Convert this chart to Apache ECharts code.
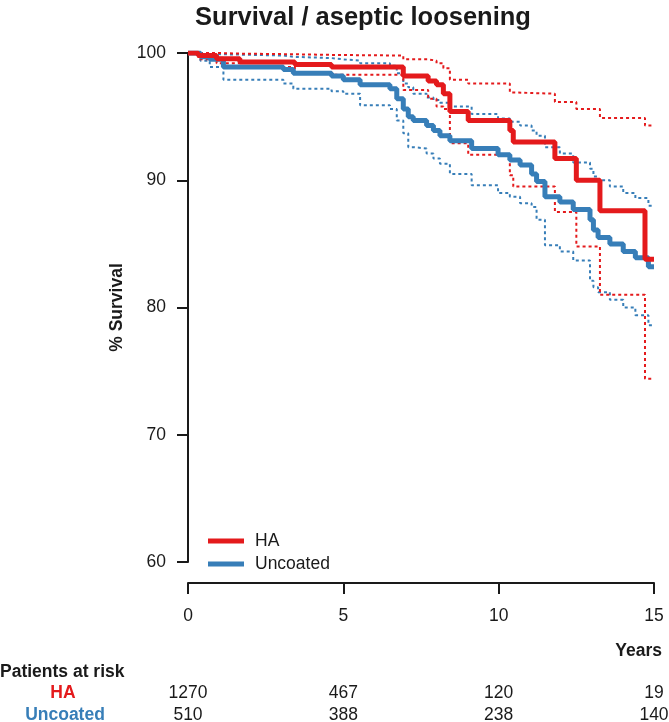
<!DOCTYPE html>
<html>
<head>
<meta charset="utf-8">
<title>Survival / aseptic loosening</title>
<script src="https://cdn.jsdelivr.net/npm/echarts@6/dist/echarts.min.js"></script>
<style>
  html, body { margin: 0; padding: 0; background: #fff; }
  #main { width: 669px; height: 722px; }
</style>
</head>
<body>
<div id="main"></div>
<script>
// ---- data ----
var endYear = 15;

// HA: step times (years) and survival (%)
var haTimes  = [0, 0.33, 0.92, 1.67, 3.44, 4.62, 6.93, 7.73, 8.0, 8.22, 8.43, 9.02, 10.36, 10.47, 11.81, 12.5, 13.26, 14.71];
var haSurv   = [100, 99.8, 99.55, 99.3, 99.1, 98.9, 98.2, 97.8, 97.5, 96.8, 95.4, 94.7, 93.9, 93.0, 91.7, 90.0, 87.6, 83.8];
var haUpper  = [100, 100, 99.95, 99.9, 99.85, 99.8, 99.5, 99.4, 99.2, 98.8, 97.9, 97.6, 96.9, 96.8, 96.15, 95.6, 94.9, 94.3];
var haLower  = [100, 99.5, 99.2, 98.9, 98.5, 98.3, 97.1, 96.4, 95.8, 95.6, 92.9, 92.0, 90.4, 89.5, 87.5, 84.8, 81.0, 74.4];

// Uncoated
var unTimes  = [0, 0.4, 0.7, 1.14, 3.07, 3.39, 4.62, 5.0, 5.54, 6.5, 6.72, 6.93, 7.09, 7.25, 7.68, 7.9, 8.11, 8.43, 9.13,
                9.98, 10.36, 10.69, 11.06, 11.22, 11.49, 11.97, 12.4, 12.94, 13.05, 13.2, 13.58, 14.01, 14.4, 14.82];
var unSurv   = [100, 99.7, 99.5, 98.9, 98.7, 98.4, 98.2, 97.9, 97.5, 97.2, 96.4, 95.6, 95.0, 94.7, 94.3, 93.9, 93.5, 93.1, 92.5,
                92.0, 91.6, 91.2, 90.5, 89.9, 88.7, 88.3, 87.7, 86.9, 86.1, 85.5, 85.0, 84.4, 83.9, 83.2];
var unUpper  = [100, 99.95, 99.9, 99.8, 99.7, 99.6, 99.5, 99.4, 99.2, 99.0, 98.4, 97.6, 97.3, 96.8, 96.5, 96.3, 96.1, 95.8, 95.2,
                94.85, 94.6, 94.3, 93.9, 93.5, 92.6, 92.1, 91.4, 90.9, 90.3, 90.0, 89.5, 89.0, 88.6, 88.0];
var unLower  = [100, 99.4, 98.9, 97.9, 97.6, 97.2, 97.0, 96.8, 95.9, 95.6, 94.7, 93.7, 92.6, 92.5, 92.1, 91.7, 91.3, 90.5, 89.6,
                89.0, 88.7, 88.2, 87.9, 86.9, 84.9, 84.4, 83.7, 82.1, 81.6, 81.2, 80.6, 80.0, 79.4, 78.6];

// patients at risk table
var riskYears    = [0, 5, 10, 15];
var riskHA       = [1270, 467, 120, 19];
var riskUncoated = [510, 388, 238, 140];

// ---- styling ----
var RED = '#E41A1C', BLUE = '#377EB8', INK = '#1a1a1a';
var FONT = '"Liberation Sans", Arial, sans-serif';

//时间/生存率配对, 最后一段延长到随访结束
function steps(times, vals) {
    var out = [];
    for (var i = 0; i < times.length; i++) {
        out.push([times[i], vals[i]]);
    }
    out.push([endYear, vals[vals.length - 1]]);
    return out;
}

function kmSeries(name, times, vals, color, dotted) {
    return {
        name: name,
        type: 'line',
        step: 'end',
        data: steps(times, vals),
        symbol: 'none',
        silent: true,
        z: dotted ? 2 : 3,
        lineStyle: dotted
            ? {color: color, width: 2, type: [3, 3]}
            : {color: color, width: 5, cap: 'butt'},
        itemStyle: {color: color}
    };
}

var chart = echarts.init(document.getElementById('main'), null, {renderer: 'canvas'});

chart.setOption({
    animation: false,
    backgroundColor: '#fff',
    textStyle: {fontFamily: FONT},
    title: {
        text: 'Survival / aseptic loosening',
        left: 358,
        textAlign: 'center',
        top: 0,
        textStyle: {fontFamily: FONT, fontSize: 25.5, fontWeight: 'bold', color: INK}
    },
    legend: {
        orient: 'vertical',
        left: 203,
        top: 527,
        itemWidth: 36,
        itemHeight: 5,
        itemGap: 5,
        icon: 'rect',
        data: ['HA', 'Uncoated'],
        textStyle: {fontFamily: FONT, fontSize: 17.5, color: INK, padding: [0, 0, 0, 6]}
    },
    grid: {left: 188, right: 15, top: 53, bottom: 160, outerBoundsMode: 'none'},
    xAxis: {
        type: 'value', min: 0, max: 15, interval: 5, offset: 21,
        axisLine: {show: true, lineStyle: {color: INK, width: 2}},
        axisTick: {show: true, length: 11, lineStyle: {color: INK, width: 2}},
        axisLabel: {margin: 24, fontSize: 17.5, color: INK, fontFamily: FONT},
        splitLine: {show: false}
    },
    yAxis: {
        type: 'value', min: 60, max: 100, interval: 10,
        name: '% Survival', nameLocation: 'middle', nameGap: 62,
        nameTextStyle: {fontFamily: FONT, fontSize: 17.5, fontWeight: 'bold', color: INK},
        axisLine: {show: true, lineStyle: {color: INK, width: 2}},
        axisTick: {show: true, length: 11, lineStyle: {color: INK, width: 2}},
        axisLabel: {margin: 22, fontSize: 17.5, color: INK, fontFamily: FONT},
        splitLine: {show: false}
    },
    series: [
        kmSeries('Uncoated upper', unTimes, unUpper, BLUE, true),
        kmSeries('Uncoated lower', unTimes, unLower, BLUE, true),
        kmSeries('HA upper', haTimes, haUpper, RED, true),
        kmSeries('HA lower', haTimes, haLower, RED, true),
        kmSeries('Uncoated', unTimes, unSurv, BLUE, false),
        kmSeries('HA', haTimes, haSurv, RED, false)
    ]
});

//风险人数表, 数字对齐到x轴刻度
var graphics = [
    {type: 'text', right: 669 - 662, top: 642,
        style: {text: 'Years', font: 'bold 17.5px ' + FONT, fill: INK}},
    {type: 'text', left: 0, top: 663,
        style: {text: 'Patients at risk', font: 'bold 17.5px ' + FONT, fill: INK}},
    {type: 'text', x: 63, y: 693,
        style: {text: 'HA', font: 'bold 17.5px ' + FONT, fill: RED, align: 'center', verticalAlign: 'middle'}},
    {type: 'text', x: 65, y: 715,
        style: {text: 'Uncoated', font: 'bold 17.5px ' + FONT, fill: BLUE, align: 'center', verticalAlign: 'middle'}}
];
for (var i = 0; i < riskYears.length; i++) {
    var px = chart.convertToPixel({xAxisIndex: 0}, riskYears[i]);
    graphics.push({type: 'text', x: px, y: 693,
        style: {text: String(riskHA[i]), font: '17.5px ' + FONT, fill: INK, align: 'center', verticalAlign: 'middle'}});
    graphics.push({type: 'text', x: px, y: 715,
        style: {text: String(riskUncoated[i]), font: '17.5px ' + FONT, fill: INK, align: 'center', verticalAlign: 'middle'}});
}
chart.setOption({graphic: graphics});
window.onresize = chart.resize;
</script>
</body>
</html>
